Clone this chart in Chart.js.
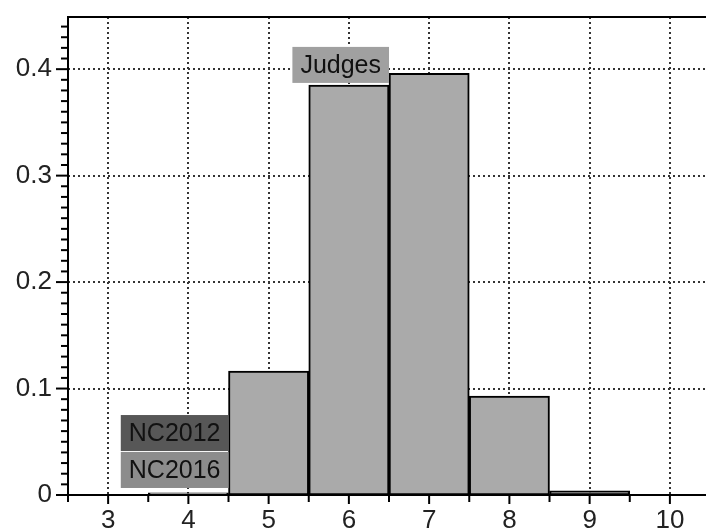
<!DOCTYPE html>
<html>
<head>
<meta charset="utf-8">
<script src="https://cdn.jsdelivr.net/npm/chart.js@4/dist/chart.umd.min.js"></script>
<style>
  html, body { margin: 0; padding: 0; background: #fff; }
  #c { display: block; }
</style>
</head>
<body>
<canvas id="c" width="706" height="532"></canvas>
<script>
// ヒストグラムのデータ
const binCenters = [4, 5, 6, 7, 8, 9];
const judgesShare = [0.002, 0.1165, 0.385, 0.396, 0.093, 0.004];
const xTicks = [3, 4, 5, 6, 7, 8, 9, 10];
const yTicks = [0, 0.1, 0.2, 0.3, 0.4];
const labelNames = ['Judges', 'NC2012', 'NC2016'];

// ラベルの置き場所（データ座標）と色
const labelAnchors = [
  { right: 6.5, y: 0.404, fill: '#a0a0a0' },
  { right: 4.5, y: 0.0582, fill: '#575757' },
  { right: 4.5, y: 0.0235, fill: '#8c8c8c' }
];

const FONT = '"Liberation Sans", Arial, sans-serif';
const FONT_SIZE = 26;

// 自動の余白を消して軸の幅を固定
const fixSize = (w, h) => scale => {
  scale.paddingTop = 0;
  scale.paddingBottom = 0;
  scale.paddingLeft = 0;
  scale.paddingRight = 0;
  if (w) scale.width = w;
  if (h) scale.height = h;
};

// 点線グリッド（棒の後ろ）
const gridPlugin = {
  id: 'dotGrid',
  beforeDatasetsDraw(chart) {
    const { ctx, chartArea, scales } = chart;
    ctx.save();
    ctx.strokeStyle = '#333';
    ctx.lineWidth = 2;
    ctx.setLineDash([2, 3]);
    xTicks.forEach(v => {
      const px = Math.round(scales.x.getPixelForValue(v));
      ctx.beginPath();
      ctx.moveTo(px, chartArea.top);
      ctx.lineTo(px, chartArea.bottom);
      ctx.stroke();
    });
    yTicks.filter(v => v > 0).forEach(v => {
      const py = Math.round(scales.y.getPixelForValue(v));
      ctx.beginPath();
      ctx.moveTo(chartArea.left, py);
      ctx.lineTo(chartArea.right, py);
      ctx.stroke();
    });
    ctx.restore();
  }
};

// 軸線・目盛り・ラベル
const axesPlugin = {
  id: 'axesAndLabels',
  afterDatasetsDraw(chart) {
    const { ctx, chartArea, scales } = chart;
    const { left, right, top, bottom } = chartArea;
    ctx.save();
    ctx.setLineDash([]);
    ctx.strokeStyle = '#000';
    ctx.lineWidth = 2;

    ctx.beginPath();
    ctx.moveTo(left, top);
    ctx.lineTo(right, top);
    ctx.moveTo(left, top - 1);
    ctx.lineTo(left, bottom + 1);
    ctx.moveTo(left, bottom);
    ctx.lineTo(right, bottom);
    ctx.stroke();

    // x目盛り
    for (let v = scales.x.min; v <= scales.x.max + 1e-9; v += 0.5) {
      const px = scales.x.getPixelForValue(v);
      const major = Math.abs(v - Math.round(v)) < 1e-6;
      ctx.beginPath();
      ctx.moveTo(px, bottom);
      ctx.lineTo(px, bottom + (major ? 9 : 7));
      ctx.stroke();
    }

    // y目盛り
    for (let i = 0; i <= Math.floor(scales.y.max * 100 + 1e-6); i++) {
      const py = scales.y.getPixelForValue(i / 100);
      const major = i % 10 === 0;
      ctx.beginPath();
      ctx.moveTo(left, py);
      ctx.lineTo(left - (major ? 12 : 7), py);
      ctx.stroke();
    }

    // ラベルボックス
    ctx.font = `${FONT_SIZE - 1}px ${FONT}`;
    ctx.textBaseline = 'middle';
    ctx.textAlign = 'center';
    labelNames.forEach((name, i) => {
      const a = labelAnchors[i];
      const w = ctx.measureText(name).width + 16;
      const h = 36;
      const rx = scales.x.getPixelForValue(a.right);
      const cy = scales.y.getPixelForValue(a.y);
      ctx.fillStyle = a.fill;
      ctx.fillRect(rx - w, cy - h / 2, w, h);
      ctx.fillStyle = '#111';
      ctx.fillText(name, rx - w / 2, cy + 1);
    });
    ctx.restore();
  }
};

new Chart(document.getElementById('c'), {
  type: 'bar',
  data: {
    datasets: [{
      label: 'Judges',
      data: binCenters.map((x, i) => ({ x: x, y: judgesShare[i] })),
      backgroundColor: '#aaaaaa',
      borderColor: '#000',
      borderWidth: 2,
      borderSkipped: false,
      barPercentage: 1,
      categoryPercentage: 1
    }]
  },
  options: {
    responsive: false,
    animation: false,
    layout: { padding: { left: 0, top: 17, right: 0, bottom: 0 } },
    plugins: { legend: { display: false }, tooltip: { enabled: false } },
    scales: {
      x: {
        type: 'linear',
        min: 2.5,
        max: 10.45,
        offset: false,
        afterBuildTicks: scale => { scale.ticks = xTicks.map(v => ({ value: v })); },
        afterFit: fixSize(0, 37),
        ticks: {
          color: '#222',
          font: { family: FONT, size: FONT_SIZE },
          padding: 10,
          maxRotation: 0,
          autoSkip: false,
          callback: v => String(v)
        },
        grid: { display: false, drawTicks: false },
        border: { display: false }
      },
      y: {
        min: 0,
        max: 0.449,
        afterBuildTicks: scale => { scale.ticks = yTicks.map(v => ({ value: v })); },
        afterFit: fixSize(68, 0),
        ticks: {
          color: '#222',
          font: { family: FONT, size: FONT_SIZE },
          padding: 16,
          autoSkip: false,
          callback: v => String(v)
        },
        grid: { display: false, drawTicks: false },
        border: { display: false }
      }
    }
  },
  plugins: [gridPlugin, axesPlugin]
});
</script>
</body>
</html>
